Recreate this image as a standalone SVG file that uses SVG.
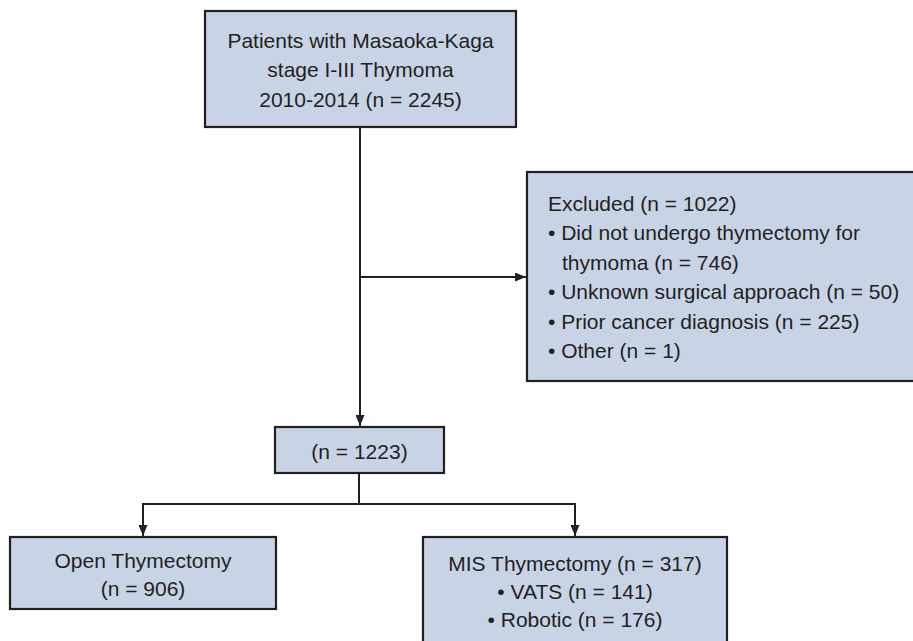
<svg xmlns="http://www.w3.org/2000/svg" width="913" height="641" viewBox="0 0 913 641">
  <defs>
    <marker id="arr" markerWidth="11" markerHeight="9" refX="11" refY="4.5" orient="auto" markerUnits="userSpaceOnUse">
      <path d="M0,0 L11,4.5 L0,9 Z" fill="#231f20"/>
    </marker>
    <style>
      .box { fill: #c9d3e6; stroke: #231f20; stroke-width: 2.2; }
      .t { font-family: "Liberation Sans", Arial, sans-serif; font-size: 21px; fill: #231f20; }
      .c { text-anchor: middle; }
      .ln { fill: none; stroke: #231f20; stroke-width: 2; }
    </style>
  </defs>
  <rect width="913" height="641" fill="#ffffff"/>

  <g id="connectors">
    <line class="ln" x1="360" y1="127" x2="360" y2="426" marker-end="url(#arr)"/>
    <line class="ln" x1="360" y1="277" x2="526" y2="277" marker-end="url(#arr)"/>
    <line class="ln" x1="359" y1="473" x2="359" y2="504"/>
    <line class="ln" x1="142" y1="504" x2="576" y2="504"/>
    <line class="ln" x1="143" y1="504" x2="143" y2="536" marker-end="url(#arr)"/>
    <line class="ln" x1="575" y1="504" x2="575" y2="536" marker-end="url(#arr)"/>
  </g>

  <g id="node-patients">
    <rect class="box" x="205" y="11" width="311" height="116"/>
    <text class="t c" x="360.5" y="47.5">Patients with Masaoka-Kaga</text>
    <text class="t c" x="360.5" y="77">stage I-III Thymoma</text>
    <text class="t c" x="360.5" y="106.5">2010-2014 (n = 2245)</text>
  </g>

  <g id="node-excluded">
    <rect class="box" x="527" y="172" width="390" height="209"/>
    <text class="t" x="548" y="210.5">Excluded (n = 1022)</text>
    <text class="t" x="548" y="240">• Did not undergo thymectomy for</text>
    <text class="t" x="562" y="269.5">thymoma (n = 746)</text>
    <text class="t" x="548" y="299">• Unknown surgical approach (n = 50)</text>
    <text class="t" x="548" y="328.5">• Prior cancer diagnosis (n = 225)</text>
    <text class="t" x="548" y="357.5">• Other (n = 1)</text>
  </g>

  <g id="node-included">
    <rect class="box" x="275" y="427" width="169" height="46"/>
    <text class="t c" x="359.5" y="458.5">(n = 1223)</text>
  </g>

  <g id="node-open">
    <rect class="box" x="10" y="537" width="266" height="72"/>
    <text class="t c" x="143" y="567.5">Open Thymectomy</text>
    <text class="t c" x="143" y="595.5">(n = 906)</text>
  </g>

  <g id="node-mis">
    <rect class="box" x="423" y="537" width="304" height="115"/>
    <text class="t c" x="575" y="570.5">MIS Thymectomy (n = 317)</text>
    <text class="t c" x="575" y="598.5">• VATS (n = 141)</text>
    <text class="t c" x="575" y="626.5">• Robotic (n = 176)</text>
  </g>
</svg>
